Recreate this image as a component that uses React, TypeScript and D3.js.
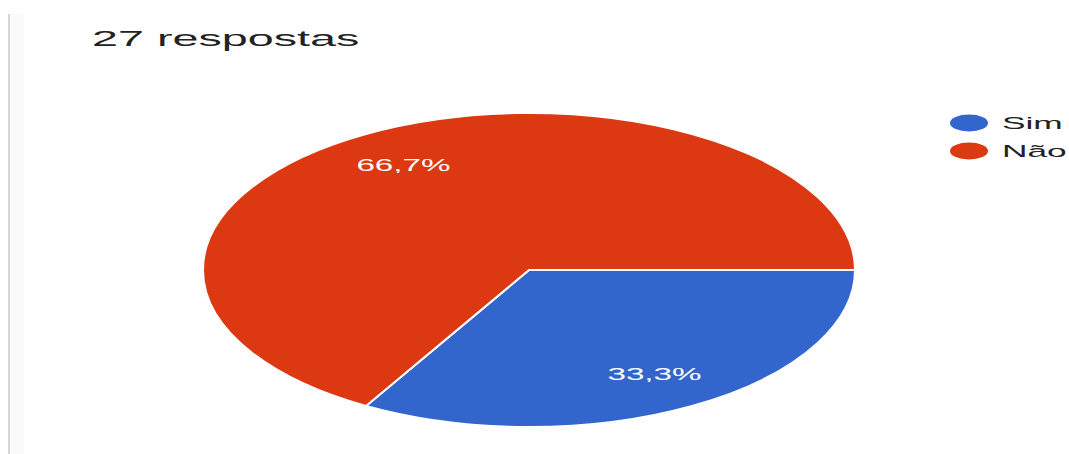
import React from "react";
import * as d3 from "d3";

const categories = ["Sim", "Não"];
const values = [9, 18];
const colors = ["#3366cc", "#dc3912"];
const title = "27 respostas";

export default function App() {
  const W = 1069, H = 454;
  const cx = 529, cy = 270, rx = 326, ry = 157;
  const sx = rx / ry;
  const total = d3.sum(values);
  const pie = d3.pie<number>().sort(null).startAngle(Math.PI / 2).endAngle(Math.PI / 2 + 2 * Math.PI);
  const arcs = pie(values);
  const arc = d3.arc<d3.PieArcDatum<number>>().innerRadius(0).outerRadius(ry);
  const labelArc = d3.arc<d3.PieArcDatum<number>>().innerRadius(ry * 0.77).outerRadius(ry * 0.77);
  const fmt = (v: number) => ((v / total) * 100).toFixed(1).replace(".", ",") + "%";
  const font = "'Liberation Sans', Arial, sans-serif";
  return (
    <svg width={W} height={H} style={{ position: "absolute", left: 0, top: 0, background: "#fff" }}
      fontFamily={font}>
      <rect x={8} y={14} width={2} height={H - 14} fill="#d6d6d6" />
      <rect x={10} y={14} width={14} height={H - 14} fill="#fafafa" />
      <text transform={`translate(92,46) scale(${sx},1)`} fontSize={22.5} fill="#222">{title}</text>
      <g transform={`translate(${cx},${cy}) scale(${sx},1)`}>
        {arcs.map((a, i) => (
          <path key={i} d={arc(a) as string} fill={colors[i]} stroke="#fff" strokeWidth={2}
            vectorEffect="non-scaling-stroke" />
        ))}
      </g>
      {arcs.map((a, i) => {
        const [x, y] = labelArc.centroid(a);
        return (
          <text key={i} transform={`translate(${cx + x * sx},${cy + y}) scale(${sx},1)`} fill="#fff"
            fontSize={16} textAnchor="middle" dominantBaseline="central">{fmt(values[i])}</text>
        );
      })}
      {categories.map((c, i) => (
        <g key={c} transform={`translate(969,${123 + i * 28})`}>
          <ellipse cx={0} cy={0} rx={19} ry={8.5} fill={colors[i]} />
          <text transform={`translate(33,0) scale(${sx},1)`} fontSize={17} fill="#222"
            dominantBaseline="central">{c}</text>
        </g>
      ))}
    </svg>
  );
}
